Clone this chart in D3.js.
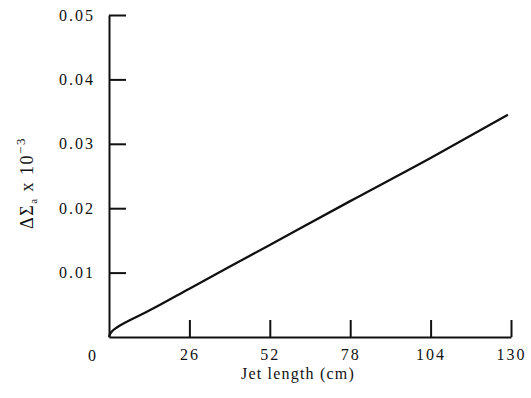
<!DOCTYPE html>
<html><head><meta charset="utf-8">
<script src="https://cdn.jsdelivr.net/npm/d3@7"></script>
<style>
body{margin:0;background:#fff;}
text{font-family:"Liberation Serif","DejaVu Serif",serif;fill:#111;}
</style></head>
<body><svg id="c" width="531" height="398"></svg>
<script>
const jetLength = [0, 0.5, 1, 2, 4, 8, 13, 26, 52, 78, 104, 129];
const deltaSigma = [0, 0.0006, 0.0009, 0.0013, 0.0019, 0.0029, 0.0041, 0.0075, 0.0143, 0.0211, 0.0278, 0.0345];
const xTicks = [26, 52, 78, 104, 130];
const yTicks = [0.01, 0.02, 0.03, 0.04, 0.05];

const svg = d3.select("#c");
const x = d3.scaleLinear().domain([0, 130]).range([109, 511]);
const y = d3.scaleLinear().domain([0, 0.05]).range([337, 15]);

const gx = svg.append("g").attr("transform", `translate(0,${y(0)})`)
  .call(d3.axisBottom(x).tickValues(xTicks).tickSizeInner(-17).tickSizeOuter(0).tickPadding(12).tickFormat(d3.format("d")));
const gy = svg.append("g").attr("transform", `translate(${x(0)},0)`)
  .call(d3.axisLeft(y).tickValues(yTicks).tickSizeInner(-17).tickSizeOuter(0).tickPadding(14).tickFormat(d3.format(".2f")));
[gx, gy].forEach(g => {
  g.selectAll("path,line").attr("stroke", "#111").attr("stroke-width", 2);
  g.selectAll("text").attr("font-size", 16).attr("font-family", "Liberation Serif, serif").attr("letter-spacing", "2px").attr("fill", "#111");
});

svg.append("text").attr("x", x(0) - 17).attr("y", y(0) + 24).attr("text-anchor", "middle")
  .attr("font-size", 16).text("0");

svg.append("path").datum(jetLength.map((d, i) => [d, deltaSigma[i]]))
  .attr("fill", "none").attr("stroke", "#111").attr("stroke-width", 2.3)
  .attr("d", d3.line().x(d => x(d[0])).y(d => y(d[1])).curve(d3.curveMonotoneX));

svg.append("text").attr("x", 298).attr("y", 379).attr("text-anchor", "middle")
  .attr("font-size", 16).attr("letter-spacing", "1.2px").text("Jet length (cm)");

const yl = svg.append("text").attr("transform", "translate(33,183) rotate(-90)")
  .attr("text-anchor", "middle").attr("font-size", 18).attr("letter-spacing", "1.5px");
yl.append("tspan").text("ΔΣ");
yl.append("tspan").attr("font-size", 11).attr("dy", 4).text("a");
yl.append("tspan").attr("dy", -4).text(" x 10");
yl.append("tspan").attr("font-size", 13).attr("dy", -8).text("−3");
</script></body></html>
